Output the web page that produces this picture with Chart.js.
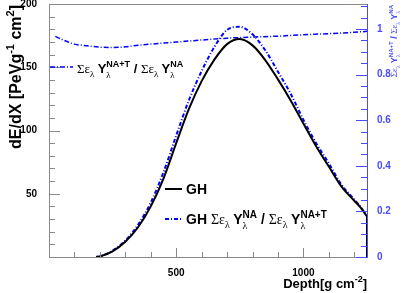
<!DOCTYPE html>
<html>
<head>
<meta charset="utf-8">
<script src="https://cdn.jsdelivr.net/npm/chart.js@4.4.0/dist/chart.umd.min.js"></script>
<style>
  html, body { margin: 0; padding: 0; background: #fff; }
</style>
</head>
<body>
<canvas id="chart" width="407" height="293"></canvas>
<script>
// depth grid for the two shower profiles [g cm^-2]
const depth = [185, 200, 250, 300, 350, 400, 450, 500, 550, 600, 650, 700, 750, 800, 850, 900, 950, 1000, 1050, 1100, 1150, 1200, 1225, 1250];
// GH fit, dE/dX [PeV g^-1 cm^2]
const ghValues = [0, 0.5, 4.5, 12, 23.5, 40, 62, 90, 117, 139, 156, 168.3, 172.3, 167.3, 155.7, 140.4, 123.8, 105.5, 87.6, 71.5, 55.6, 44.5, 39, 32];
// GH * sum(eY NA) / sum(eY NA+T)
const ghCorrected = [0, 0.5, 5, 13, 25.5, 43, 67, 96, 124, 147, 166, 179.5, 182, 176, 163.5, 146.5, 129, 108.5, 90, 74, 57, 45.5, 39.5, 32.5];
// ratio curve (right axis)
const ratioDepth = [25, 50, 100, 150, 200, 250, 300, 350, 400, 500, 600, 700, 800, 900, 1000, 1100, 1200, 1250];
const ratioValues = [0.968, 0.955, 0.934, 0.927, 0.921, 0.919, 0.922, 0.929, 0.934, 0.943, 0.952, 0.96, 0.965, 0.969, 0.975, 0.98, 0.986, 0.99];

const xTicks = [500, 1000];
const yTicks = [50, 100, 150, 200];
const y2Ticks = [0, 0.2, 0.4, 0.6, 0.8, 1];

const BLUE = "#0000ff";
const AXBLUE = "#4a4aff";
const GREY = "#8a8a8a";
const SANS = "'Liberation Sans', Arial, sans-serif";
const SERIF = "'Liberation Serif', 'Times New Roman', serif";

function pts(xs, ys) {
    return xs.map((x, i) => ({ x: x, y: ys[i] }));
}

// histogram end: vertical drop at the last depth bin
function drop(xs, ys) {
    const n = xs.length - 1;
    return [{ x: xs[n], y: ys[n] }, { x: xs[n], y: 0 }];
}

// draws a list of text pieces one after another, with super/subscripts
function rich(ctx, x, y, parts) {
    let cx = x;
    for (const p of parts) {
        if (p.sup !== undefined || p.sub !== undefined) {
            let w = 0;
            if (p.sup) {
                ctx.font = p.fs;
                ctx.fillText(p.sup, cx, y + p.dsup);
                w = Math.max(w, ctx.measureText(p.sup).width);
            }
            if (p.sub) {
                ctx.font = p.fb;
                ctx.fillText(p.sub, cx, y + p.dsub);
                w = Math.max(w, ctx.measureText(p.sub).width);
            }
            cx += w;
        } else {
            ctx.font = p.f;
            ctx.fillText(p.t, cx, y + (p.dy || 0));
            cx += ctx.measureText(p.t).width;
        }
    }
    return cx - x;
}

function sumTerm(sup, size) {
    const serif = size + "px " + SERIF;
    const small = Math.round(size * 0.68);
    return [
        { t: "\u03A3", f: serif },
        { t: "\u03B5", f: serif },
        { sub: "\u03BB", fb: small + "px " + SERIF, dsub: size * 0.32 },
        { t: " ", f: serif },
        { t: "Y", f: "bold " + size + "px " + SANS },
        { sup: sup, sub: "\u03BB", fs: "bold " + small + "px " + SANS, fb: small + "px " + SERIF, dsup: -size * 0.45, dsub: size * 0.36 }
    ];
}

function slash(size) {
    return [{ t: " / ", f: "bold " + size + "px " + SANS }];
}

function measureRich(ctx, parts) {
    ctx.save();
    ctx.globalAlpha = 0;
    const w = rich(ctx, 0, 0, parts);
    ctx.restore();
    return w;
}

const rootPlugin = {
    id: "rootDecor",
    afterDraw(chart) {
        const { ctx, chartArea: a, scales } = chart;
        ctx.save();
        const seg = (x1, y1, x2, y2) => {
            ctx.beginPath(); ctx.moveTo(x1, y1); ctx.lineTo(x2, y2); ctx.stroke();
        };
        ctx.lineWidth = 1;

        // top frame
        ctx.strokeStyle = GREY;
        seg(a.left, a.top + 0.5, a.right, a.top + 0.5);

        // left axis ticks (inside)
        for (let v = 0; v <= 200; v += 10) {
            const py = Math.round(scales.y.getPixelForValue(v)) + 0.5;
            seg(a.left, py, a.left + (v % 50 === 0 ? 11 : 6), py);
        }
        // bottom axis ticks (inside)
        for (let v = 100; v < 1250; v += 100) {
            const px = Math.round(scales.x.getPixelForValue(v)) + 0.5;
            seg(px, a.bottom, px, a.bottom - (v % 500 === 0 ? 9 : 5));
        }
        // right axis ticks (inside)
        ctx.strokeStyle = AXBLUE;
        for (let k = 0; k <= 22; k++) {
            const v = k * 0.05;
            const py = Math.round(scales.y2.getPixelForValue(v)) + 0.5;
            seg(a.right, py, a.right - (k % 4 === 0 ? 11 : 6), py);
        }

        ctx.textBaseline = "alphabetic";
        ctx.textAlign = "left";

        // ratio curve label
        ctx.strokeStyle = BLUE;
        ctx.lineWidth = 1.5;
        ctx.setLineDash([5, 2, 1, 2]);
        seg(50, 67, 73, 67);
        ctx.setLineDash([]);
        ctx.fillStyle = "#000";
        rich(ctx, 77, 73, [].concat(sumTerm("NA+T", 13), slash(13), sumTerm("NA", 13)));

        // legend: GH
        ctx.strokeStyle = "#000";
        ctx.lineWidth = 2;
        seg(165, 189, 182, 189);
        rich(ctx, 186, 194, [{ t: "GH", f: "bold 14px " + SANS }]);

        // legend: corrected GH
        ctx.strokeStyle = BLUE;
        ctx.lineWidth = 2;
        ctx.setLineDash([4, 2, 1, 2]);
        seg(165, 219, 183, 219);
        ctx.setLineDash([]);
        rich(ctx, 186, 224, [{ t: "GH ", f: "bold 14px " + SANS }].concat(sumTerm("NA", 14), slash(14), sumTerm("NA+T", 14)));

        // x title
        const xt = [
            { t: "Depth[g cm", f: "bold 13px " + SANS },
            { sup: "-2", fs: "bold 9px " + SANS, dsup: -6 },
            { t: "]", f: "bold 13px " + SANS }
        ];
        const xw = measureRich(ctx, xt);
        ctx.fillStyle = "#000";
        rich(ctx, a.right - xw, 288, xt);

        // left y title
        const yt = [
            { t: "dE/dX [PeVg", f: "bold 16px " + SANS },
            { sup: "-1", fs: "bold 11px " + SANS, dsup: -7 },
            { t: " cm", f: "bold 16px " + SANS },
            { sup: "2", fs: "bold 11px " + SANS, dsup: -7 },
            { t: "]", f: "bold 16px " + SANS }
        ];
        const yw = measureRich(ctx, yt);
        ctx.save();
        ctx.translate(21, a.top + 1 + yw);
        ctx.rotate(-Math.PI / 2);
        rich(ctx, 0, 0, yt);
        ctx.restore();

        // right y title
        const rt = [].concat(sumTerm("NA+T", 9), slash(9), sumTerm("NA", 9));
        const rw = measureRich(ctx, rt);
        ctx.save();
        ctx.fillStyle = AXBLUE;
        ctx.translate(397, a.top + 1 + rw);
        ctx.rotate(-Math.PI / 2);
        rich(ctx, 0, 0, rt);
        ctx.restore();

        ctx.restore();
    }
};

const noPad = s => { s.paddingTop = 0; s.paddingBottom = 0; s.paddingLeft = 0; s.paddingRight = 0; };

new Chart(document.getElementById("chart"), {
    type: "line",
    data: {
        datasets: [
            {
                label: "GH",
                data: pts(depth, ghValues),
                borderColor: "#000",
                borderWidth: 2,
                pointRadius: 0,
                cubicInterpolationMode: "monotone",
                yAxisID: "y"
            },
            {
                label: "GH end",
                data: drop(depth, ghValues),
                borderColor: "#000",
                borderWidth: 2,
                pointRadius: 0,
                yAxisID: "y"
            },
            {
                label: "GH corrected",
                data: pts(depth, ghCorrected),
                borderColor: BLUE,
                borderWidth: 2,
                borderDash: [4, 2, 1, 2],
                pointRadius: 0,
                cubicInterpolationMode: "monotone",
                yAxisID: "y"
            },
            {
                label: "GH corrected end",
                data: drop(depth, ghCorrected),
                borderColor: BLUE,
                borderWidth: 2,
                borderDash: [4, 2, 1, 2],
                pointRadius: 0,
                yAxisID: "y"
            },
            {
                label: "ratio",
                data: pts(ratioDepth, ratioValues),
                borderColor: BLUE,
                borderWidth: 1.5,
                borderDash: [5, 2, 1, 2],
                pointRadius: 0,
                cubicInterpolationMode: "monotone",
                yAxisID: "y2"
            }
        ]
    },
    options: {
        responsive: false,
        animation: false,
        devicePixelRatio: 1,
        layout: { padding: { top: 4, left: 0, right: 0, bottom: 0 } },
        plugins: { legend: { display: false }, tooltip: { enabled: false } },
        scales: {
            x: {
                type: "linear",
                min: 0,
                max: 1250,
                grid: { display: false },
                border: { color: GREY, width: 1 },
                ticks: { color: "#000", font: { family: SANS, size: 10, weight: "bold" }, padding: 2, maxRotation: 0, autoSkip: false,
                         callback: v => String(v) },
                afterBuildTicks: s => { s.ticks = xTicks.map(v => ({ value: v })); },
                afterFit: s => { s.height = 36; noPad(s); }
            },
            y: {
                position: "left",
                min: 0,
                max: 200,
                grid: { display: false },
                border: { color: GREY, width: 1 },
                ticks: { color: "#000", font: { family: SANS, size: 10, weight: "bold" }, padding: 4, autoSkip: false },
                afterBuildTicks: s => { s.ticks = yTicks.map(v => ({ value: v })); },
                afterFit: s => { s.width = 49; noPad(s); }
            },
            y2: {
                position: "right",
                min: 0,
                max: 1.11,
                grid: { display: false },
                border: { color: AXBLUE, width: 1 },
                ticks: { color: AXBLUE, font: { family: SANS, size: 10, weight: "bold" }, padding: 2, autoSkip: false,
                         callback: v => String(Math.round(v * 10) / 10) },
                afterBuildTicks: s => { s.ticks = y2Ticks.map(v => ({ value: v })); },
                afterFit: s => { s.width = 40; noPad(s); }
            }
        }
    },
    plugins: [rootPlugin]
});
</script>
</body>
</html>
